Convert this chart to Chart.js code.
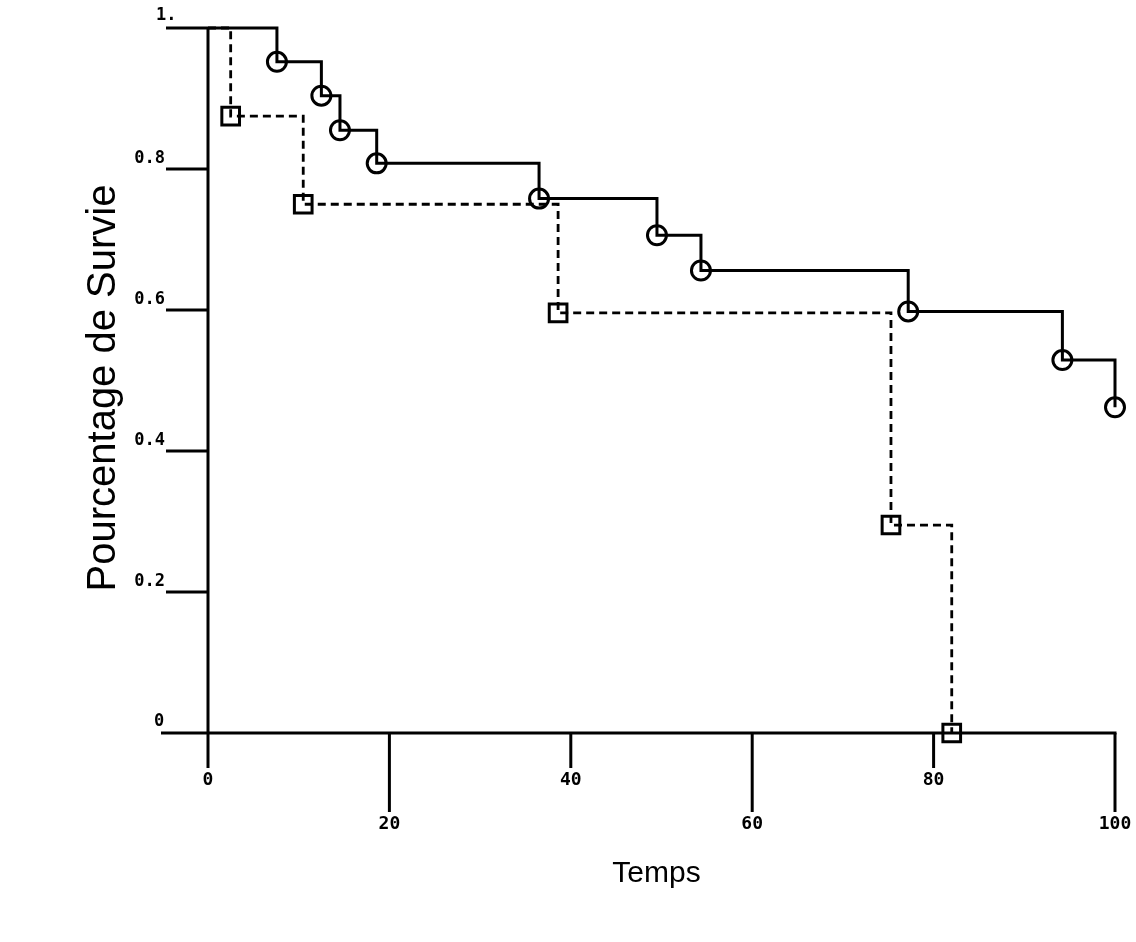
<!DOCTYPE html>
<html>
<head>
<meta charset="utf-8">
<script src="https://cdn.jsdelivr.net/npm/chart.js@4.4.1/dist/chart.umd.min.js"></script>
<style>
  html, body { margin: 0; padding: 0; background: #ffffff; }
  #wrap { width: 1136px; height: 942px; position: relative; }
</style>
</head>
<body>
<div id="wrap"><canvas id="c" width="1136" height="942"></canvas></div>
<script>
// ---- data ----
const groupATimes = [0, 7.6, 12.5, 14.55, 18.6, 36.5, 49.5, 54.35, 77.2, 94.2, 100];
const groupASurv  = [1, 0.952, 0.904, 0.855, 0.808, 0.758, 0.706, 0.656, 0.598, 0.529, 0.462];
const groupBTimes = [0, 2.5, 10.5, 38.6, 75.3, 82.0];
const groupBSurv  = [1, 0.875, 0.750, 0.596, 0.295, 0];
const xTickValues = [0, 20, 40, 60, 80, 100];
const xTickLabels = ['0', '20', '40', '60', '80', '100'];
const yTickValues = [0, 0.2, 0.4, 0.6, 0.8, 1];
const yTickLabels = ['0', '0.2', '0.4', '0.6', '0.8', '1.'];
const xTitle = 'Temps';
const yTitle = 'Pourcentage de Survie';

function toPoints(xs, ys) { return xs.map((x, i) => ({ x: x, y: ys[i] })); }

const axesPlugin = {
  id: 'kmAxes',
  afterDraw(chart) {
    const ctx = chart.ctx;
    const xs = chart.scales.x, ys = chart.scales.y;
    const x0 = xs.getPixelForValue(0), x100 = xs.getPixelForValue(100);
    const y0 = ys.getPixelForValue(0), y1 = ys.getPixelForValue(1);
    ctx.save();
    ctx.strokeStyle = '#000';
    ctx.fillStyle = '#000';
    ctx.lineWidth = 3;
    ctx.lineCap = 'butt';
    // x axis line (extends left of the y axis)
    ctx.beginPath();
    ctx.moveTo(x0 - 47, y0);
    ctx.lineTo(x100 + 1.5, y0);
    ctx.stroke();
    // y axis line
    ctx.beginPath();
    ctx.moveTo(x0, y1);
    ctx.lineTo(x0, y0);
    ctx.stroke();
    // y ticks
    yTickValues.forEach((v) => {
      if (v === 0) return;
      const py = ys.getPixelForValue(v);
      ctx.beginPath();
      ctx.moveTo(x0 - 42, py);
      ctx.lineTo(x0, py);
      ctx.stroke();
    });
    // y tick labels (above-left of the tick line)
    ctx.font = 'bold 17px "DejaVu Sans Mono"';
    ctx.textBaseline = 'alphabetic';
    yTickValues.forEach((v, i) => {
      const py = ys.getPixelForValue(v);
      if (v === 1) {
        ctx.textAlign = 'left';
        ctx.fillText(yTickLabels[i], x0 - 52, py - 8);
      } else if (v === 0) {
        ctx.textAlign = 'left';
        ctx.fillText(yTickLabels[i], x0 - 54, py - 7);
      } else {
        ctx.textAlign = 'right';
        ctx.fillText(yTickLabels[i], x0 - 43, py - 6);
      }
    });
    // x ticks: alternating short / long
    ctx.font = 'bold 18px "DejaVu Sans Mono"';
    ctx.textAlign = 'center';
    ctx.textBaseline = 'middle';
    xTickValues.forEach((v, i) => {
      const px = xs.getPixelForValue(v);
      const len = (i % 2 === 0) ? 35 : 79;
      ctx.beginPath();
      ctx.moveTo(px, y0);
      ctx.lineTo(px, y0 + len);
      ctx.stroke();
      ctx.fillText(xTickLabels[i], px, y0 + len + 12);
    });
    // axis titles
    ctx.font = '30px "Liberation Sans"';
    ctx.textAlign = 'center';
    ctx.textBaseline = 'middle';
    ctx.fillText(xTitle, (x0 + x100) / 2 - 5, 874);
    ctx.font = '40px "Liberation Sans"';
    ctx.translate(104, 388);
    ctx.rotate(-Math.PI / 2);
    ctx.fillText(yTitle, 0, 0);
    ctx.restore();
  }
};

const radiusFn = (r) => (ctx) => ctx.dataIndex === 0 ? 0 : r;

new Chart(document.getElementById('c'), {
  type: 'line',
  data: {
    datasets: [
      {
        label: 'Groupe 1',
        data: toPoints(groupATimes, groupASurv),
        stepped: 'before',
        borderColor: '#000',
        borderWidth: 3,
        pointStyle: 'circle',
        pointRadius: radiusFn(9.5),
        pointBorderWidth: 3,
        pointBorderColor: '#000',
        pointBackgroundColor: 'rgba(0,0,0,0)',
        fill: false,
        clip: false
      },
      {
        label: 'Groupe 2',
        data: toPoints(groupBTimes, groupBSurv),
        stepped: 'before',
        borderColor: '#000',
        borderWidth: 2.8,
        borderDash: [8, 5],
        pointStyle: 'rect',
        pointRadius: radiusFn(12.5),
        pointBorderWidth: 3,
        pointBorderColor: '#000',
        pointBackgroundColor: 'rgba(0,0,0,0)',
        fill: false,
        clip: false
      }
    ]
  },
  options: {
    responsive: false,
    animation: false,
    devicePixelRatio: 1,
    layout: { padding: { left: 208, right: 21, top: 28, bottom: 209 } },
    plugins: { legend: { display: false }, tooltip: { enabled: false } },
    scales: {
      x: { type: 'linear', min: 0, max: 100, display: false },
      y: { type: 'linear', min: 0, max: 1, display: false }
    }
  },
  plugins: [axesPlugin]
});
</script>
</body>
</html>
